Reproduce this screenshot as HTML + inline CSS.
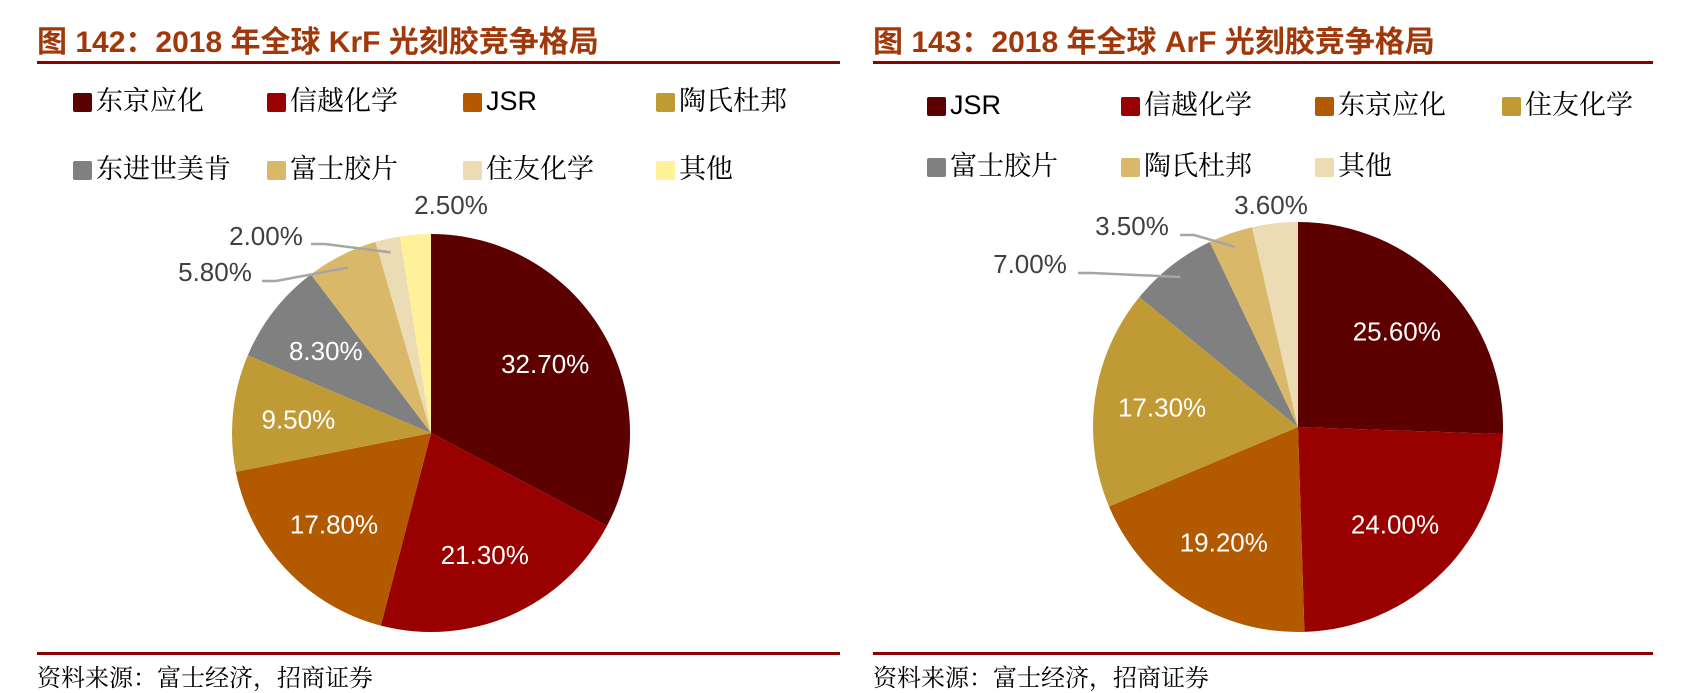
<!DOCTYPE html>
<html><head><meta charset="utf-8"><style>
body{margin:0;width:1681px;height:690px;background:#fff;overflow:hidden;position:relative;font-family:"Liberation Sans","Noto Serif CJK SC",serif}
.t{position:absolute;font-weight:bold;color:#a0380a;font-size:30px;top:17px;font-family:"Liberation Sans","Noto Sans CJK SC",sans-serif;white-space:nowrap}
.rule{position:absolute;height:3px;background:#8b0000}
.lg{position:absolute;font-size:27px;color:#000;white-space:nowrap;font-family:"Liberation Sans","Noto Serif CJK SC",serif;line-height:30px}
.lg i{display:inline-block;width:19px;height:19px;border-radius:2px;margin-right:4px;vertical-align:-2px}
.src{position:absolute;top:658px;font-size:24px;font-family:"Noto Serif CJK SC",serif}
svg{position:absolute;left:0;top:0}
</style></head><body>
<div class="t" style="left:37px">图 142：2018 年全球 KrF 光刻胶竞争格局</div>
<div class="rule" style="left:37px;width:803px;top:61px"></div>
<div class="t" style="left:873px">图 143：2018 年全球 ArF 光刻胶竞争格局</div>
<div class="rule" style="left:873px;width:780px;top:61px"></div>

<div class="lg" style="left:73px;top:86px"><i style="background:#5c0000"></i>东京应化</div>
<div class="lg" style="left:267px;top:86px"><i style="background:#990000"></i>信越化学</div>
<div class="lg" style="left:463px;top:86px"><i style="background:#b35900"></i>JSR</div>
<div class="lg" style="left:656px;top:86px"><i style="background:#c09a35"></i>陶氏杜邦</div>
<div class="lg" style="left:73px;top:154px"><i style="background:#808080"></i>东进世美肯</div>
<div class="lg" style="left:267px;top:154px"><i style="background:#d9b86a"></i>富士胶片</div>
<div class="lg" style="left:463px;top:154px"><i style="background:#ecdcb4"></i>住友化学</div>
<div class="lg" style="left:656px;top:154px"><i style="background:#fff09a"></i>其他</div>

<div class="lg" style="left:927px;top:90px"><i style="background:#5c0000"></i>JSR</div>
<div class="lg" style="left:1121px;top:90px"><i style="background:#990000"></i>信越化学</div>
<div class="lg" style="left:1315px;top:90px"><i style="background:#b35900"></i>东京应化</div>
<div class="lg" style="left:1502px;top:90px"><i style="background:#c09a35"></i>住友化学</div>
<div class="lg" style="left:927px;top:151px"><i style="background:#808080"></i>富士胶片</div>
<div class="lg" style="left:1121px;top:151px"><i style="background:#d9b86a"></i>陶氏杜邦</div>
<div class="lg" style="left:1315px;top:151px"><i style="background:#ecdcb4"></i>其他</div>

<svg id="chart" width="1681" height="690"></svg>

<div class="rule" style="left:37px;width:803px;top:652px"></div>
<div class="rule" style="left:873px;width:780px;top:652px"></div>
<div class="src" style="left:37px">资料来源：富士经济，招商证券</div>
<div class="src" style="left:873px">资料来源：富士经济，招商证券</div>

<script>
const krfLabels = ["东京应化","信越化学","JSR","陶氏杜邦","东进世美肯","富士胶片","住友化学","其他"];
const krfValues = [32.7,21.3,17.8,9.5,8.3,5.8,2.0,2.5];
const krfColors = ["#5c0000","#990000","#b35900","#c09a35","#808080","#d9b86a","#ecdcb4","#fff09a"];
const arfLabels = ["JSR","信越化学","东京应化","住友化学","富士胶片","陶氏杜邦","其他"];
const arfValues = [25.6,24.0,19.2,17.3,7.0,3.5,3.6];
const arfColors = ["#5c0000","#990000","#b35900","#c09a35","#808080","#d9b86a","#ecdcb4"];

const NS="http://www.w3.org/2000/svg";
const svg=document.getElementById('chart');
function mk(tag,attrs){const e=document.createElementNS(NS,tag);for(const k in attrs)e.setAttribute(k,attrs[k]);svg.appendChild(e);return e;}
function pt(cx,cy,r,a){return [cx+r*Math.sin(a),cy-r*Math.cos(a)];}
function pie(cx,cy,r,vals,cols,outside){
  const tot=vals.reduce((a,b)=>a+b,0);
  let a0=0;
  vals.forEach((v,i)=>{
    const a1=a0+v/tot*2*Math.PI;
    const p0=pt(cx,cy,r,a0),p1=pt(cx,cy,r,a1);
    const large=(a1-a0)>Math.PI?1:0;
    const s=mk('path',{d:`M${cx},${cy}L${p0[0]},${p0[1]}A${r},${r} 0 ${large} 1 ${p1[0]},${p1[1]}Z`,fill:cols[i]});
    
    
    const am=(a0+a1)/2;
    const txt=v.toFixed(2)+'%';
    if(outside[i]){
      const o=outside[i];
      if(o[2]!==null){
        const e=pt(cx,cy,r*0.93,am);
        const l=mk('polyline',{points:`${o[2]},${o[3]} ${o[2]+14},${o[3]} ${e[0]},${e[1]}`,fill:'none',stroke:'#a6a6a6','stroke-width':2.5});
        
        
      }
      const t=mk('text',{x:o[0],y:o[1],'text-anchor':'middle','dominant-baseline':'central','font-size':26,fill:'#404040','font-family':'Liberation Sans, sans-serif'});
      t.textContent=txt;
      
      
    } else {
      const c=pt(cx,cy,r*0.67,am);
      const t=mk('text',{x:c[0],y:c[1],'text-anchor':'middle','dominant-baseline':'central','font-size':26,fill:'#fff','font-family':'Liberation Sans, sans-serif'});
      t.textContent=txt;
      
      
    }
    a0=a1;
  });
}
pie(431,433,199,krfValues,krfColors,{5:[215,272,262,281],6:[266,236,311,244],7:[451,205,null,null]});
pie(1298,427,205,arfValues,arfColors,{4:[1030,264,1078,273],5:[1132,226,1180,235],6:[1271,205,null,null]});
</script>
</body></html>
